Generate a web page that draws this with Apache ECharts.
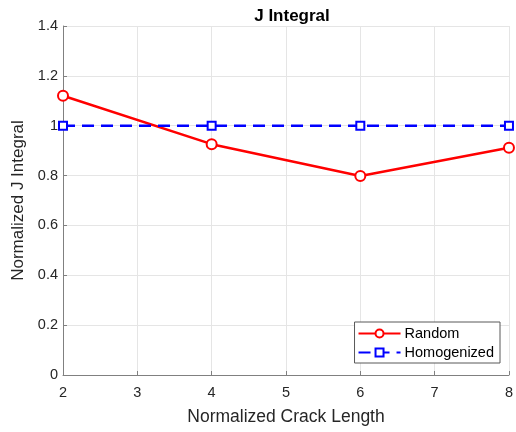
<!DOCTYPE html>
<html>
<head>
<meta charset="utf-8">
<script src="https://cdn.jsdelivr.net/npm/echarts@6/dist/echarts.min.js"></script>
<style>
  html, body { margin: 0; padding: 0; background: #fff; }
  #chart { width: 516px; height: 432px; }
</style>
</head>
<body>
<div id="chart"></div>
<script>
// Normalized crack lengths and J integral values for each material model
const crackLength = [2, 4, 6, 8];
const randomJ = [1.12, 0.926, 0.798, 0.912];
const homogenizedJ = [1, 1, 1, 1];
const seriesNames = ['Random', 'Homogenized'];

const FONT = '"Liberation Sans", Arial, sans-serif';
const AXIS_GRAY = '#808080';
const TEXT_DARK = '#262626';

const chart = echarts.init(document.getElementById('chart'), null, { renderer: 'canvas' });

chart.setOption({
  animation: false,
  backgroundColor: '#ffffff',
  textStyle: { fontFamily: FONT },
  title: {
    text: 'J Integral',
    left: 287,
    textAlign: 'center',
    top: 3,
    textStyle: { fontFamily: FONT, fontSize: 17, fontWeight: 'bold', color: '#000' }
  },
  grid: { left: 63, right: 5, top: 26, bottom: 57, containLabel: false },
  legend: {
    data: seriesNames,
    orient: 'vertical',
    right: 16,
    bottom: 69,
    itemWidth: 42,
    itemHeight: 10,
    itemGap: 4,
    padding: [4, 6, 3, 3],
    backgroundColor: '#ffffff',
    borderColor: '#595959',
    borderWidth: 1,
    borderRadius: 0,
    textStyle: { fontFamily: FONT, fontSize: 14.5, color: '#000', padding: [0, 0, 0, -1] }
  },
  xAxis: {
    type: 'value',
    min: 2,
    max: 8,
    interval: 1,
    name: 'Normalized Crack Length',
    nameLocation: 'middle',
    nameGap: 33,
    nameTextStyle: { fontFamily: FONT, fontSize: 17.5, color: TEXT_DARK },
    axisLine: { onZero: false, lineStyle: { color: AXIS_GRAY, width: 1 } },
    axisTick: { inside: true, length: 4, lineStyle: { color: AXIS_GRAY } },
    axisLabel: { fontFamily: FONT, fontSize: 14.5, color: TEXT_DARK, margin: 10 },
    splitLine: { show: true, lineStyle: { color: '#e5e5e5', width: 1 } }
  },
  yAxis: {
    type: 'value',
    min: 0,
    max: 1.4,
    interval: 0.2,
    name: 'Normalized J Integral',
    nameLocation: 'middle',
    nameGap: 28,
    nameTextStyle: { fontFamily: FONT, fontSize: 17, color: TEXT_DARK },
    axisLine: { show: true, onZero: false, lineStyle: { color: AXIS_GRAY, width: 1 } },
    axisTick: { show: true, inside: true, length: 4, lineStyle: { color: AXIS_GRAY } },
    axisLabel: { fontFamily: FONT, fontSize: 14.5, color: TEXT_DARK, margin: 5 },
    splitLine: { show: true, lineStyle: { color: '#e5e5e5', width: 1 } }
  },
  series: [
    {
      name: seriesNames[0],
      type: 'line',
      data: crackLength.map((x, i) => [x, randomJ[i]]),
      symbol: 'emptyCircle',
      symbolSize: 10,
      showAllSymbol: true,
      lineStyle: { color: '#ff0000', width: 2.5 },
      itemStyle: { color: '#ff0000', borderColor: '#ff0000', borderWidth: 2 },
      z: 3
    },
    {
      name: seriesNames[1],
      type: 'line',
      data: crackLength.map((x, i) => [x, homogenizedJ[i]]),
      symbol: 'emptyRect',
      symbolSize: 8,
      showAllSymbol: true,
      lineStyle: { color: '#0000ff', width: 2.5, type: [12, 7] },
      itemStyle: { color: '#0000ff', borderColor: '#0000ff', borderWidth: 1.5 },
      z: 4
    }
  ]
});
</script>
</body>
</html>
